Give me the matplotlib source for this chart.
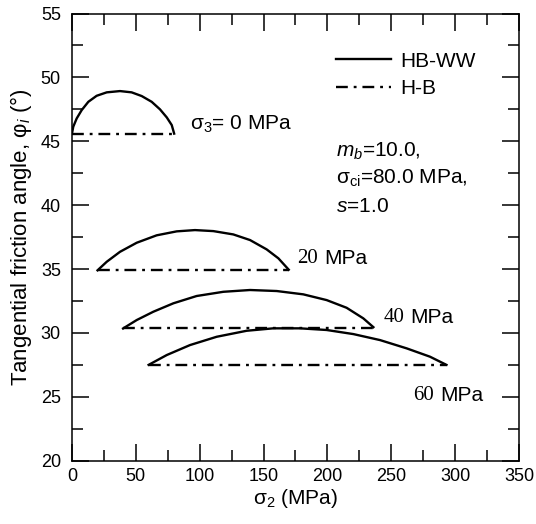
import numpy as np
import matplotlib
matplotlib.use('Agg')
import matplotlib.pyplot as plt
from matplotlib.ticker import MultipleLocator

plt.rcParams['font.family'] = ['Liberation Sans', 'DejaVu Sans']
plt.rcParams['mathtext.fontset'] = 'custom'
plt.rcParams['mathtext.rm'] = 'Liberation Sans'
plt.rcParams['mathtext.it'] = 'Liberation Sans:italic'
fnt = 15

# HB-WW curves: sigma_2 (MPa) vs tangential friction angle (deg)
s2_0 = [0.0, 1.0, 3.7, 7.6, 12.8, 19.3, 27.2, 37.6, 46.7, 54.6, 62.4, 68.9, 74.2, 78.1, 80.0]
phi_0 = [45.6, 46.14, 46.79, 47.44, 48.09, 48.56, 48.83, 48.93, 48.83, 48.54, 48.09, 47.50, 46.87, 46.27, 45.6]

s2_20 = [20.0, 27.2, 37.6, 50.7, 66.3, 82.0, 96.3, 110.7, 126.3, 139.4, 152.4, 161.6, 169.7]
phi_20 = [34.9, 35.57, 36.35, 37.06, 37.64, 37.95, 38.05, 37.97, 37.71, 37.27, 36.54, 35.84, 34.95]

s2_40 = [40.0, 50.7, 63.7, 79.4, 97.6, 118.5, 139.4, 160.3, 181.1, 199.4, 215.0, 228.1, 236.0]
phi_40 = [30.35, 31.01, 31.66, 32.32, 32.89, 33.22, 33.36, 33.28, 33.02, 32.57, 31.97, 31.14, 30.45]

s2_60 = [60.0, 74.2, 92.4, 113.3, 136.8, 157.6, 178.5, 199.4, 220.3, 241.2, 262.1, 280.3, 293.2]
phi_60 = [27.5, 28.27, 29.05, 29.70, 30.17, 30.36, 30.36, 30.23, 29.91, 29.44, 28.79, 28.14, 27.5]

# H-B: constant angle between sigma_3 and sigma_1
sig3 = [0, 20, 40, 60]
sig1 = [80.0, 169.7, 236.0, 293.2]
phi_hb = [45.6, 34.9, 30.35, 27.5]

ww_x = [s2_0, s2_20, s2_40, s2_60]
ww_y = [phi_0, phi_20, phi_40, phi_60]

fig = plt.figure(figsize=(5.36, 5.24), dpi=100)
ax = fig.add_axes([0.1343, 0.1208, 0.834, 0.8534])

dd = (0, (5, 2.5, 1.2, 2.5))
for i in range(4):
    ax.plot(ww_x[i], ww_y[i], '-', color='black', lw=1.7, solid_joinstyle='round',
            label='HB-WW' if i == 0 else None)
    ax.plot([sig3[i], sig1[i]], [phi_hb[i], phi_hb[i]], linestyle=dd, color='black', lw=1.7,
            label='H-B' if i == 0 else None)

ax.set_xlim(0, 350)
ax.set_ylim(20, 55)
ax.xaxis.set_major_locator(MultipleLocator(50))
ax.xaxis.set_minor_locator(MultipleLocator(25))
ax.yaxis.set_major_locator(MultipleLocator(5))
ax.yaxis.set_minor_locator(MultipleLocator(2.5))
ax.tick_params(which='both', direction='in', top=True, right=True, width=1.1, labelsize=13)
ax.tick_params(which='major', length=12)
ax.tick_params(which='minor', length=8)
ax.tick_params(axis='x', which='both', pad=5)
ax.tick_params(axis='y', which='both', pad=8)
for sp in ax.spines.values():
    sp.set_linewidth(1.1)

ax.set_xlabel('σ$_2$ (MPa)', fontsize=fnt, labelpad=2)
ax.set_ylabel('Tangential friction angle, φ$_i$ (°)', fontsize=16, labelpad=5)

# labels of the curves
ax.text(92.4, 46.35, 'σ$_3$= 0 MPa', fontsize=fnt, ha='left', va='center')
lab_x = [176.2, 243.8, 267.3]
lab_y = [35.84, 31.22, 25.14]
lab_t = ['20', '40', '60']
for x, y, t in zip(lab_x, lab_y, lab_t):
    ax.text(x, y, t, fontsize=fnt, family='Liberation Serif', ha='left', va='center')
    ax.annotate('MPa', (x, y), xytext=(19.5, 0), textcoords='offset points',
                fontsize=fnt, ha='left', va='center')

ax.legend(loc='upper left', bbox_to_anchor=(0.5906, 0.915), frameon=False, fontsize=fnt,
          handlelength=2.65, handletextpad=0.45, labelspacing=0.4, borderpad=0, borderaxespad=0)

ax.text(206.7, 44.23, '$m_b$=10.0,', fontsize=fnt, ha='left', va='center')
ax.text(206.7, 42.12, 'σ$_{\\mathrm{ci}}$=80.0 MPa,', fontsize=fnt, ha='left', va='center')
ax.text(206.7, 39.93, '$s$=1.0', fontsize=fnt, ha='left', va='center')

plt.savefig('out.png', dpi=100)
